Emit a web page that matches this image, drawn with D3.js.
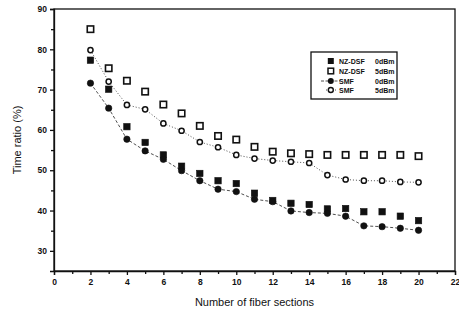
<!DOCTYPE html>
<html>
<head>
<meta charset="utf-8">
<script src="https://cdn.jsdelivr.net/npm/d3@7"></script>
<style>
  body { margin: 0; background: #fff; }
  svg { display: block; font-family: "Liberation Sans", Arial, sans-serif; }
</style>
</head>
<body>
<div id="chart"></div>
<script>
// number of fiber sections
var sections = [2, 3, 4, 5, 6, 7, 8, 9, 10, 11, 12, 13, 14, 15, 16, 17, 18, 19, 20];

// time ratio (%) per series
var nzdsf0 = [77.3, 70.1, 60.8, 56.9, 53.8, 51.0, 49.2, 47.4, 46.7, 44.3, 42.5, 41.8, 41.5, 40.4, 40.5, 39.7, 39.7, 38.6, 37.5];
var nzdsf5 = [85.0, 75.3, 72.2, 69.5, 66.3, 64.1, 61.0, 58.5, 57.6, 55.8, 54.6, 54.2, 54.0, 53.8, 53.8, 53.8, 53.8, 53.8, 53.5];
var smf0 = [71.6, 65.4, 57.7, 54.8, 52.7, 49.9, 47.4, 45.3, 44.7, 42.8, 42.2, 39.9, 39.5, 39.3, 38.6, 36.2, 36.0, 35.6, 35.1];
var smf5 = [79.8, 72.0, 66.2, 65.1, 61.6, 59.8, 57.0, 55.7, 53.8, 52.9, 52.4, 52.1, 51.8, 48.8, 47.7, 47.4, 47.4, 47.1, 47.0];

var xTicks = [0, 2, 4, 6, 8, 10, 12, 14, 16, 18, 20, 22];
var yTicks = [30, 40, 50, 60, 70, 80, 90];
var legendNames = ['NZ-DSF', 'NZ-DSF', 'SMF', 'SMF'];
var legendPowers = ['0dBm', '5dBm', '0dBm', '5dBm'];

var width = 459, height = 315;
var margin = {top: 9, right: 4, bottom: 44, left: 54};

var svg = d3.select('#chart').append('svg')
    .attr('width', width)
    .attr('height', height);

var x = d3.scaleLinear().domain([0, 22]).range([margin.left, width - margin.right]);
var y = d3.scaleLinear().domain([25, 90]).range([height - margin.bottom, margin.top]);

// frame
svg.append('rect')
    .attr('x', x(0))
    .attr('y', y(90))
    .attr('width', x(22) - x(0))
    .attr('height', y(25) - y(90))
    .attr('fill', 'none')
    .attr('stroke', '#111')
    .attr('stroke-width', 1.3);

// x axis, majors and odd minors
var xAxis = svg.append('g')
    .attr('transform', 'translate(0,' + y(25) + ')')
    .call(d3.axisBottom(x).tickValues(xTicks).tickSize(4).tickPadding(4));
svg.append('g')
    .attr('transform', 'translate(0,' + y(25) + ')')
    .call(d3.axisBottom(x).tickValues(d3.range(1, 22, 2)).tickSize(3).tickFormat(''))
    .select('.domain').remove();

var yAxis = svg.append('g')
    .attr('transform', 'translate(' + x(0) + ',0)')
    .call(d3.axisLeft(y).tickValues(yTicks).tickSize(4).tickPadding(3));
svg.append('g')
    .attr('transform', 'translate(' + x(0) + ',0)')
    .call(d3.axisLeft(y).tickValues(d3.range(35, 90, 10)).tickSize(3).tickFormat(''))
    .select('.domain').remove();

svg.selectAll('.domain').attr('stroke', '#111').attr('stroke-width', 1.3);
svg.selectAll('.tick line').attr('stroke', '#111').attr('stroke-width', 1.3);
svg.selectAll('.tick text')
    .attr('fill', '#111')
    .style('font-size', '8.5px')
    .style('font-weight', 'bold');

// axis titles
svg.append('text')
    .attr('x', (x(0) + x(22)) / 2)
    .attr('y', 306)
    .attr('text-anchor', 'middle')
    .style('font-size', '11px')
    .attr('fill', '#111')
    .text('Number of fiber sections');

svg.append('text')
    .attr('transform', 'translate(21,' + ((y(25) + y(90)) / 2) + ') rotate(-90)')
    .attr('text-anchor', 'middle')
    .style('font-size', '11px')
    .attr('fill', '#111')
    .text('Time ratio (%)');

function pts (vals) {
    return sections.map(function (s, i) { return [s, vals[i]]; });
}

var line = d3.line()
    .x(function (d) { return x(d[0]); })
    .y(function (d) { return y(d[1]); });

// connecting lines for the SMF series
svg.append('path')
    .attr('d', line(pts(smf0)))
    .attr('fill', 'none')
    .attr('stroke', '#222')
    .attr('stroke-width', 0.8)
    .attr('stroke-dasharray', '3,2');

svg.append('path')
    .attr('d', line(pts(smf5)))
    .attr('fill', 'none')
    .attr('stroke', '#222')
    .attr('stroke-width', 0.8)
    .attr('stroke-dasharray', '1,2');

function squares (vals, filled) {
    svg.append('g').selectAll('rect')
        .data(pts(vals))
        .enter()
        .append('rect')
        .attr('x', function (d) { return x(d[0]) - 3.2; })
        .attr('y', function (d) { return y(d[1]) - 3.2; })
        .attr('width', 6.4)
        .attr('height', 6.4)
        .attr('fill', filled ? '#111' : '#fff')
        .attr('stroke', '#111')
        .attr('stroke-width', filled ? 0.6 : 1.6);
}

function circles (vals, filled) {
    svg.append('g').selectAll('circle')
        .data(pts(vals))
        .enter()
        .append('circle')
        .attr('cx', function (d) { return x(d[0]); })
        .attr('cy', function (d) { return y(d[1]); })
        .attr('r', filled ? 3.2 : 2.6)
        .attr('fill', filled ? '#111' : '#fff')
        .attr('stroke', '#111')
        .attr('stroke-width', filled ? 0.6 : 1.5);
}

squares(nzdsf5, false);
circles(smf5, false);
squares(nzdsf0, true);
circles(smf0, true);

// legend
var lg = svg.append('g').attr('transform', 'translate(311,52)');
lg.append('rect')
    .attr('width', 86)
    .attr('height', 47)
    .attr('fill', '#fff')
    .attr('stroke', '#111')
    .attr('stroke-width', 1.3);

var rowY = [9, 19, 29, 38];
lg.append('line')
    .attr('x1', 10).attr('x2', 29)
    .attr('y1', rowY[2]).attr('y2', rowY[2])
    .attr('stroke', '#222').attr('stroke-width', 0.8)
    .attr('stroke-dasharray', '3,1.5');
lg.append('line')
    .attr('x1', 15).attr('x2', 25)
    .attr('y1', rowY[3]).attr('y2', rowY[3])
    .attr('stroke', '#222').attr('stroke-width', 0.8)
    .attr('stroke-dasharray', '1,2');

lg.append('rect').attr('x', 16.8).attr('y', rowY[0] - 3).attr('width', 6).attr('height', 6).attr('fill', '#111');
lg.append('rect').attr('x', 17).attr('y', rowY[1] - 2.8).attr('width', 5.6).attr('height', 5.6)
    .attr('fill', '#fff').attr('stroke', '#111').attr('stroke-width', 1.5);
lg.append('circle').attr('cx', 19.8).attr('cy', rowY[2]).attr('r', 3).attr('fill', '#111');
lg.append('circle').attr('cx', 19.8).attr('cy', rowY[3]).attr('r', 2.5)
    .attr('fill', '#fff').attr('stroke', '#111').attr('stroke-width', 1.4);

lg.selectAll('text.name')
    .data(legendNames)
    .enter()
    .append('text')
    .attr('class', 'name')
    .attr('x', 28)
    .attr('y', function (d, i) { return rowY[i] + 2.6; })
    .style('font-size', '7px')
    .style('font-weight', 'bold')
    .attr('fill', '#111')
    .text(function (d) { return d; });

lg.selectAll('text.power')
    .data(legendPowers)
    .enter()
    .append('text')
    .attr('class', 'power')
    .attr('x', 64)
    .attr('y', function (d, i) { return rowY[i] + 2.6; })
    .style('font-size', '7px')
    .style('font-weight', 'bold')
    .attr('fill', '#111')
    .text(function (d) { return d; });
</script>
</body>
</html>
